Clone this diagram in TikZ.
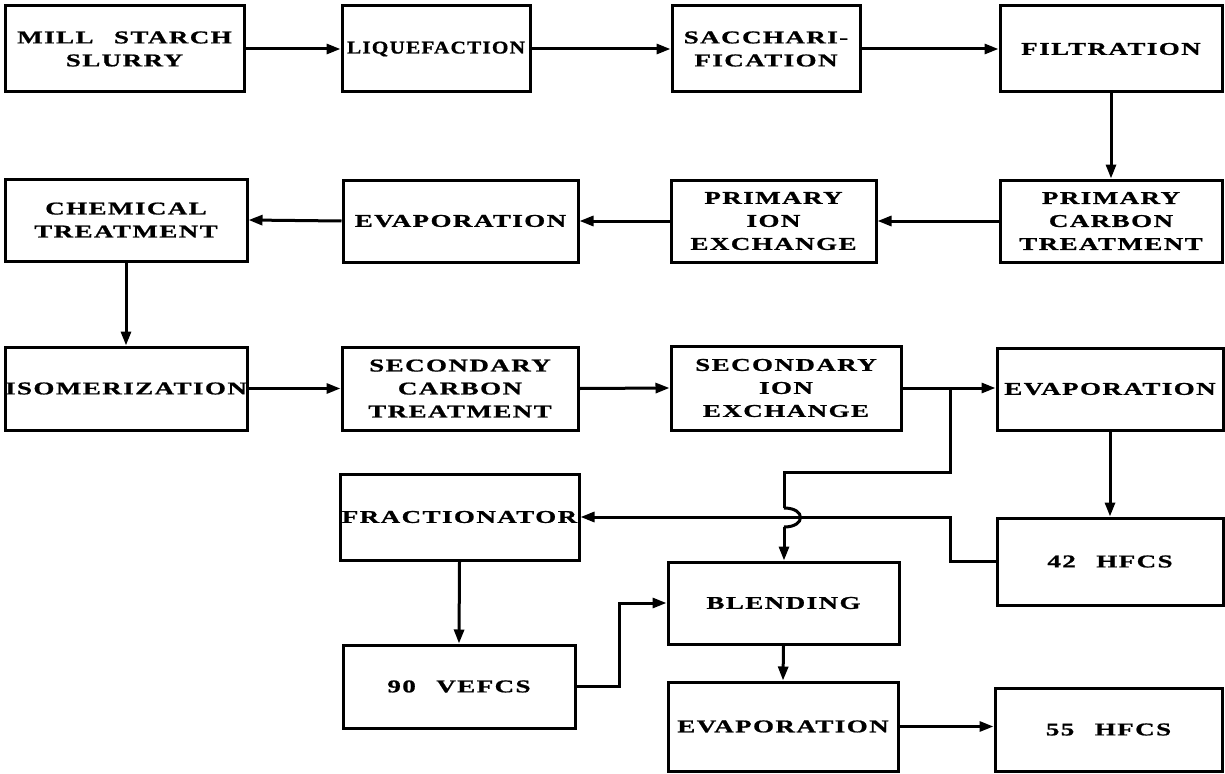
\documentclass[tikz,border=0pt]{standalone}
\usepackage{fontspec}
\usepackage{graphicx}
\usetikzlibrary{arrows.meta,calc}
\newfontfamily\boxfont[FakeStretch=1.5,LetterSpace=8,FakeBold=1,WordSpace=2.5]{Liberation Serif}
\begin{document}
\begin{tikzpicture}[x=1pt,y=-1pt,
  box/.style={draw,line width=3pt,align=center,inner sep=0pt,
    font=\boxfont\bfseries\fontsize{18}{23}\selectfont},
  flow/.style={line width=3pt,-{Triangle[length=14pt,width=10pt]}},
  plain/.style={line width=3pt}]
\useasboundingbox (0,0) rectangle (1225,773);
% row 1
\node[box,minimum width=239pt,minimum height=86pt] (mill) at (124.5,49) {MILL STARCH\\SLURRY};
\node[box,minimum width=188pt,minimum height=86pt] (liq) at (436,49) {\scalebox{0.79}[1]{LIQUEFACTION}};
\node[box,minimum width=188pt,minimum height=86pt] (sacc) at (766,49) {SACCHARI-\\FICATION};
\node[box,minimum width=222pt,minimum height=86pt] (filt) at (1111,49) {FILTRATION};
% row 2
\node[box,minimum width=222pt,minimum height=82pt] (pct) at (1111,221) {PRIMARY\\CARBON\\TREATMENT};
\node[box,minimum width=205pt,minimum height=82pt] (pie) at (773.5,221) {PRIMARY\\ION\\EXCHANGE};
\node[box,minimum width=235pt,minimum height=82pt] (evapa) at (460.5,221) {EVAPORATION};
\node[box,minimum width=242pt,minimum height=82pt] (chem) at (126,220) {CHEMICAL\\TREATMENT};
% row 3
\node[box,minimum width=242pt,minimum height=83pt] (isom) at (126,388.5) {ISOMERIZATION};
\node[box,minimum width=236pt,minimum height=83pt] (sct) at (460,388.5) {SECONDARY\\CARBON\\TREATMENT};
\node[box,minimum width=230pt,minimum height=84pt] (sie) at (786,388) {SECONDARY\\ION\\EXCHANGE};
\node[box,minimum width=226pt,minimum height=82pt] (evapb) at (1110,389) {EVAPORATION};
% lower part
\node[box,minimum width=239pt,minimum height=86pt] (frac) at (459.5,517) {FRACTIONATOR};
\node[box,minimum width=226pt,minimum height=87pt] (hfa) at (1110,561.5) {42 HFCS};
\node[box,minimum width=231pt,minimum height=82pt] (blend) at (783.5,603) {BLENDING};
\node[box,minimum width=232pt,minimum height=83pt] (vef) at (459,686.5) {90 VEFCS};
\node[box,minimum width=230pt,minimum height=89pt] (evapc) at (783,726.5) {EVAPORATION};
\node[box,minimum width=227pt,minimum height=83pt] (hfb) at (1108.5,729.5) {55 HFCS};
% connectors
\draw[flow] (mill.east) -- (liq.west);
\draw[flow] (liq.east) -- (sacc.west);
\draw[flow] (sacc.east) -- (filt.west);
\draw[flow] (filt.south) -- (pct.north);
\draw[flow] (pct.west) -- (pie.east);
\draw[flow] (pie.west) -- (evapa.east);
\draw[flow] (evapa.west) -- (chem.east);
\draw[flow] (chem.south) -- (isom.north);
\draw[flow] (isom.east) -- (sct.west);
\draw[flow] (sct.east) -- (sie.west);
\draw[flow] (sie.east) -- (evapb.west |- sie.east);
\draw[flow] (evapb.south) -- (hfa.north);
% branch to blending with hop
\coordinate (j) at (950,388);
\coordinate (k) at (frac.east -| j);
\coordinate (b1) at (950,472);
\coordinate (b2) at (784,472);
\coordinate (h1) at (784,508);
\coordinate (h2) at (784,527);
\draw[plain,line join=miter] (j) -- (b1) -- (b2) -- (h1);
\draw[plain] (h1) .. controls (806,508) and (806,527) .. (h2);
\draw[flow] (h2) -- (blend.north -| h2);
% 42 HFCS to fractionator
\draw[flow] (hfa.west) -| (k) -- (frac.east);
\draw[flow] (frac.south) -- (vef.north);
\draw[flow] (vef.east) -- ++(43,0) |- (blend.west);
\draw[flow] (blend.south) -- (evapc.north);
\draw[flow] (evapc.east) -- (evapc.east -| hfb.west);
\end{tikzpicture}
\end{document}
